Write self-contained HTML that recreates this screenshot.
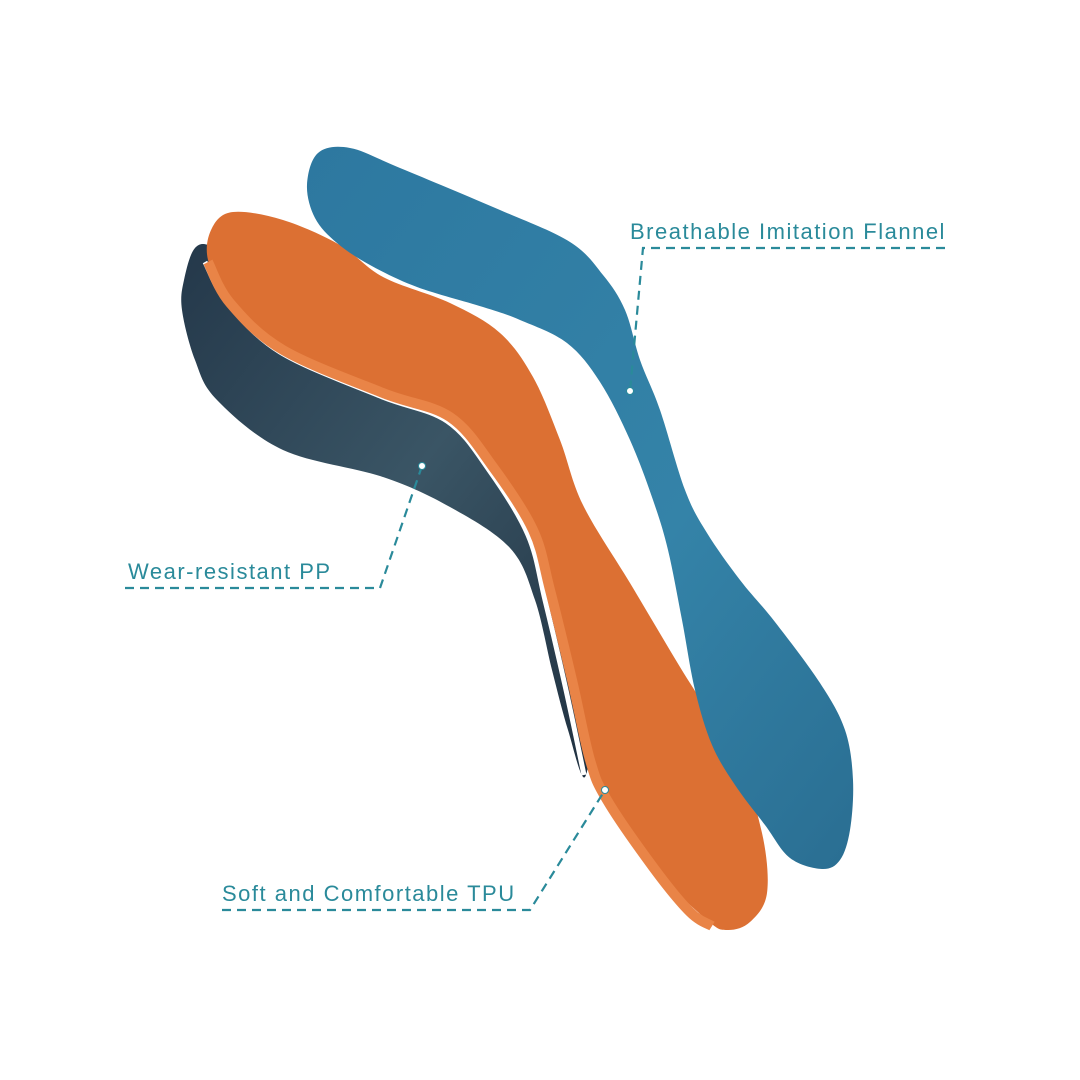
<!DOCTYPE html>
<html><head><meta charset="utf-8"><style>
html,body{margin:0;padding:0;background:#fff;}
svg{display:block}
text{font-family:"Liberation Sans",sans-serif;fill:#2a8a9a;font-size:22px;letter-spacing:1.5px}
</style></head><body>
<svg width="1080" height="1080" viewBox="0 0 1080 1080">
<defs>
<linearGradient id="dk" x1="0" y1="0" x2="1" y2="1"><stop offset="0" stop-color="#24384a"/><stop offset="0.5" stop-color="#3a5565"/><stop offset="1" stop-color="#1f3040"/></linearGradient>
<linearGradient id="bl" x1="0" y1="0" x2="1" y2="1"><stop offset="0" stop-color="#2d78a0"/><stop offset="0.6" stop-color="#3483a8"/><stop offset="1" stop-color="#2a6e92"/></linearGradient>
</defs>
<path id="dark" fill="url(#dk)"/>
<path id="gap" fill="none" stroke="#fff" stroke-width="5"/>
<path id="orange" fill="#dc7033"/>
<path id="rim" fill="none" stroke="#e98447" stroke-width="10"/>
<path id="blue" fill="url(#bl)"/>
<g fill="none" stroke="#2a8a9a" stroke-width="2.2" stroke-dasharray="9,6">
<path d="M945,248 L643,248 L630,391"/>
<path d="M125,588 L380,588 L422,466"/>
<path d="M222,910 L530,910 L605,790"/>
</g>
<g fill="#fff" stroke="#2a8a9a" stroke-width="1"><circle cx="630" cy="391" r="3.5"/><circle cx="422" cy="466" r="3.5"/><circle cx="605" cy="790" r="3.5"/></g>
<text x="630" y="239">Breathable Imitation Flannel</text>
<text x="128" y="579">Wear-resistant PP</text>
<text x="222" y="901">Soft and Comfortable TPU</text>
</svg>
<script>
function cr(p,closed){
  var n=p.length,d="M"+p[0][0]+","+p[0][1];
  var m=closed?n:n-1;
  for(var i=0;i<m;i++){
    var p0=p[(i-1+n)%n],p1=p[i],p2=p[(i+1)%n],p3=p[(i+2)%n];
    if(!closed){if(i==0)p0=p1;if(i+2>=n)p3=p2;}
    var c1=[p1[0]+(p2[0]-p0[0])/6,p1[1]+(p2[1]-p0[1])/6];
    var c2=[p2[0]-(p3[0]-p1[0])/6,p2[1]-(p3[1]-p1[1])/6];
    d+=" C"+c1[0].toFixed(1)+","+c1[1].toFixed(1)+" "+c2[0].toFixed(1)+","+c2[1].toFixed(1)+" "+p2[0]+","+p2[1];
  }
  return d+(closed?"Z":"");
}
var dark=[[195,248],[184,280],[182,310],[195,360],[217,400],[283,450],[383,477],[450,507],[510,548],[535,600],[552,670],[568,730],[585,777],[592,700],[578,600],[552,520],[500,440],[400,370],[250,280],[214,248]];
document.getElementById('dark').setAttribute('d',cr(dark,true));
var orange=[[233,212],[283,220],[340,245],[383,277],[450,303],[500,333],[533,377],[560,440],[583,505],[630,583],[680,667],[737,760],[762,833],[767,893],[750,922],[727,930],[707,920],[653,867],[607,800],[590,760],[572,680],[550,590],[533,530],[493,467],[450,417],[383,393],[283,350],[230,303],[208,260],[212,228]];
document.getElementById('orange').setAttribute('d',cr(orange,true));
var rim=[[208,262],[230,303],[283,350],[383,393],[450,417],[493,467],[533,530],[550,590],[572,680],[590,760],[607,800],[653,867],[690,912],[712,926]];
document.getElementById('rim').setAttribute('d',cr(rim,false));
var ge=[[205,262],[227,302],[280,352],[380,396],[447,421],[489,470],[528,535],[545,600],[566,690],[584,775]];
document.getElementById('gap').setAttribute('d',cr(ge,false));
var blue=[[318,153],[350,148],[400,168],[500,210],[570,242],[603,275],[625,310],[640,360],[660,410],[685,490],[707,533],[740,580],[775,622],[820,683],[845,730],[853,780],[850,830],[840,860],[822,869],[790,858],[765,825],[735,785],[712,745],[695,690],[682,620],[668,550],[653,500],[630,440],[600,382],[567,343],[520,320],[483,307],[417,287],[370,265],[337,243],[315,218],[307,185]];
document.getElementById('blue').setAttribute('d',cr(blue,true));
</script>
</body></html>
